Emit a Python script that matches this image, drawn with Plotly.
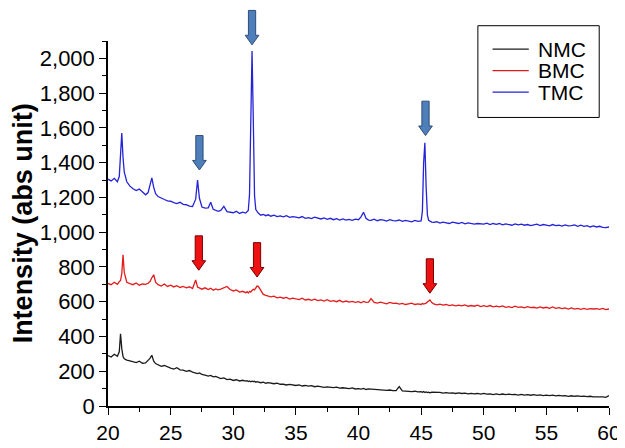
import plotly.graph_objects as go

# 2-theta (deg), one line per degree
two_theta = [
    20.0, 20.25, 20.5, 20.75, 20.9,
    21.0, 21.1, 21.2, 21.3, 21.5, 21.75,
    22.0, 22.25, 22.5, 22.75,
    23.0, 23.2, 23.35, 23.5, 23.65, 23.8,
    24.0, 24.25, 24.5, 24.75,
    25.0, 25.25, 25.5, 25.75,
    26.0, 26.25, 26.5, 26.75,
    27.0, 27.15, 27.3, 27.5, 27.75,
    28.0, 28.2, 28.4, 28.6, 28.8,
    29.0, 29.25, 29.5, 29.75,
    30.0, 30.25, 30.5, 30.75,
    31.0, 31.1, 31.2, 31.3, 31.4, 31.5, 31.6, 31.7, 31.8, 31.9,
    32.0, 32.2, 32.4, 32.6, 32.8,
    33.0, 33.25, 33.5, 33.75,
    34.0, 34.25, 34.5, 34.75,
    35.0, 35.25, 35.5, 35.75,
    36.0, 36.25, 36.5, 36.75,
    37.0, 37.25, 37.5, 37.75,
    38.0, 38.25, 38.5, 38.75,
    39.0, 39.25, 39.5, 39.75,
    40.0, 40.2, 40.4, 40.6, 40.8,
    41.0, 41.25, 41.5, 41.75,
    42.0, 42.25, 42.5, 42.75,
    43.0, 43.25, 43.5, 43.75,
    44.0, 44.25, 44.5, 44.75,
    45.0, 45.1, 45.2, 45.3, 45.4, 45.5, 45.6, 45.7, 45.85,
    46.0, 46.25, 46.5, 46.75,
    47.0, 47.25, 47.5, 47.75,
    48.0, 48.25, 48.5, 48.75,
    49.0, 49.25, 49.5, 49.75,
    50.0, 50.25, 50.5, 50.75,
    51.0, 51.25, 51.5, 51.75,
    52.0, 52.25, 52.5, 52.75,
    53.0, 53.25, 53.5, 53.75,
    54.0, 54.25, 54.5, 54.75,
    55.0, 55.25, 55.5, 55.75,
    56.0, 56.25, 56.5, 56.75,
    57.0, 57.25, 57.5, 57.75,
    58.0, 58.25, 58.5, 58.75,
    59.0, 59.25, 59.5, 59.75,
    60.0,
]

nmc = [
    290, 282, 298, 286, 312,
    415, 330, 285, 272, 264, 260,
    256, 250, 258, 246,
    248, 260, 274, 292, 258, 244,
    236, 228, 233, 224,
    218, 212, 220, 208,
    206, 199, 204, 195,
    192, 186, 190, 182, 178,
    172, 176, 168, 170, 163,
    158, 162, 152, 155,
    147, 151, 144, 148,
    143, 146, 141, 144, 139, 143, 140, 142, 137, 140,
    138, 134, 137, 131, 134,
    132, 128, 131, 125,
    125, 121, 124, 119,
    118, 121, 115, 118,
    114, 117, 111, 114,
    111, 107, 110, 106,
    106, 109, 103, 105,
    103, 100, 104, 98,
    100, 97, 101, 95, 98,
    97, 93, 96, 92,
    93, 90, 92, 88,
    89, 112, 87, 85,
    86, 83, 85, 81,
    82, 79, 83, 78, 81, 77, 80, 76, 79,
    79, 76, 78, 74,
    77, 74, 76, 72,
    75, 72, 74, 70,
    73, 70, 72, 68,
    72, 68, 70, 66,
    70, 66, 69, 65,
    68, 65, 67, 63,
    67, 63, 65, 62,
    65, 61, 64, 60,
    63, 60, 62, 58,
    61, 58, 60, 56,
    59, 56, 58, 55,
    57, 54, 56, 53,
    54, 51, 53, 50,
    60,
]

bmc = [
    705, 698, 712, 700, 715,
    722, 762, 870, 768, 712, 704,
    698, 708, 695, 702,
    700, 706, 716, 738, 755, 712,
    698, 690, 702, 688,
    695, 685, 692, 682,
    688, 680, 686, 676,
    725, 684, 678, 672, 680,
    670, 678, 666, 674, 668,
    672, 680, 688, 670,
    662, 668, 655, 660,
    652, 658, 650, 660, 655, 665, 672, 668, 680, 690,
    688, 662, 642, 636, 630,
    628, 632, 622, 626,
    620, 625, 615, 620,
    618, 612, 620, 610,
    614, 608, 615, 606,
    610, 604, 612, 602,
    606, 600, 608, 598,
    604, 598, 602, 596,
    600, 594, 602, 596, 598,
    618, 596, 592, 598,
    594, 588, 596, 590,
    592, 586, 590, 584,
    588, 592, 584, 588,
    584, 590, 586, 588, 592, 598, 606, 610, 595,
    588, 582, 586, 580,
    584, 578, 582, 576,
    580, 576, 582, 574,
    578, 574, 580, 572,
    577, 572, 578, 570,
    574, 570, 576, 568,
    572, 566, 574, 568,
    570, 565, 572, 566,
    568, 563, 570, 564,
    568, 562, 570, 562,
    566, 560, 564, 558,
    564, 558, 562, 556,
    562, 556, 560, 558,
    560, 556, 562, 555,
    558,
]

tmc = [
    1305, 1295, 1310, 1290, 1320,
    1440, 1570, 1430, 1345, 1290, 1265,
    1250, 1240, 1248, 1230,
    1215, 1228, 1265, 1312, 1258, 1222,
    1205, 1195, 1188, 1180,
    1178, 1170, 1165, 1172,
    1160, 1158, 1150, 1148,
    1190, 1300, 1195, 1145, 1138,
    1140, 1172, 1132, 1125, 1120,
    1125, 1148, 1118, 1115,
    1112, 1120, 1108, 1115,
    1110, 1118, 1125, 1220, 1700, 2043, 1650, 1210, 1130, 1120,
    1110, 1098, 1102, 1095, 1100,
    1092, 1098, 1090, 1094,
    1088, 1095, 1085, 1090,
    1086, 1082, 1090, 1080,
    1084, 1078, 1086, 1080,
    1076, 1082, 1074, 1080,
    1072, 1078, 1070, 1076,
    1070, 1074, 1068, 1075,
    1072, 1088, 1115, 1080, 1070,
    1068, 1075, 1066, 1072,
    1070, 1064, 1072, 1066,
    1065, 1070, 1062, 1068,
    1064, 1060, 1068, 1062,
    1065, 1120, 1400, 1515, 1260, 1100, 1068, 1062, 1058,
    1056, 1060, 1052, 1058,
    1054, 1050, 1058, 1052,
    1050, 1056, 1048, 1054,
    1052, 1046, 1050, 1048,
    1046, 1052, 1044, 1050,
    1045, 1050, 1042, 1048,
    1044, 1040, 1048, 1042,
    1046, 1040, 1044, 1038,
    1042, 1046, 1038, 1044,
    1040, 1036, 1044, 1038,
    1040, 1035, 1042, 1036,
    1038, 1042, 1034, 1040,
    1034, 1038, 1030, 1036,
    1030, 1034, 1028, 1026,
    1030,
]

series_names = ["NMC", "BMC", "TMC"]
series_colors = ["#1a1a1a", "#e31b1b", "#2323d8"]
y_title = "Intensity (abs unit)"

# peak marker arrows (x position, tip intensity)
arrow_x_tmc = [27.3, 31.5, 45.35]
arrow_tip_tmc = [1358, 2078, 1556]
arrow_x_bmc = [27.25, 31.9, 45.7]
arrow_tip_bmc = [781, 742, 649]

x_range = [20, 60]
y_range = [0, 2100]

assert len(two_theta) == len(nmc) == len(bmc) == len(tmc)

FONT = "Arial, Liberation Sans, sans-serif"
W, H = 625, 448
ML, MR, MT, MB = 100, 13, 33, 33
PW, PH = W - ML - MR, H - MT - MB


def px2paper_x(px):
    return (px - ML) / PW


def px2paper_y(py):
    return (H - MB - py) / PH


fig = go.Figure()
for name, ys, col in zip(series_names, [nmc, bmc, tmc], series_colors):
    fig.add_trace(go.Scatter(x=two_theta, y=ys, mode="lines", name=name,
                             line=dict(color=col, width=1.3), showlegend=False))


def arrow_path(xv, tip):
    px = (xv - x_range[0]) / (x_range[1] - x_range[0])
    py = (tip - y_range[0]) / (y_range[1] - y_range[0])
    sw = 3.7 / PW
    hw = 7.0 / PW
    hh = 10.0 / PH
    tl = 36.0 / PH
    pts = [(px, py), (px - hw, py + hh), (px - sw, py + hh), (px - sw, py + tl),
           (px + sw, py + tl), (px + sw, py + hh), (px + hw, py + hh)]
    return "M " + " L ".join(f"{a:.5f},{b:.5f}" for a, b in pts) + " Z"


for xs, tips, fill, edge in [(arrow_x_tmc, arrow_tip_tmc, "#4f7fbb", "#2e4d78"),
                             (arrow_x_bmc, arrow_tip_bmc, "#ee1111", "#7a0000")]:
    for xv, tv in zip(xs, tips):
        fig.add_shape(type="path", path=arrow_path(xv, tv), xref="paper", yref="paper",
                      fillcolor=fill, line=dict(color=edge, width=1), layer="above")

# legend box (drawn manually to match the boxed legend layout)
box_l, box_r, box_t, box_b = 478, 602, 17, 113
fig.add_shape(type="rect", xref="paper", yref="paper",
              x0=px2paper_x(box_l), x1=px2paper_x(box_r),
              y0=px2paper_y(box_b), y1=px2paper_y(box_t),
              line=dict(color="black", width=1), fillcolor="white", layer="above")
for i, (name, col) in enumerate(zip(series_names, series_colors)):
    cy = box_t + 24.5 + 22.5 * i
    fig.add_shape(type="line", xref="paper", yref="paper",
                  x0=px2paper_x(493), x1=px2paper_x(530),
                  y0=px2paper_y(cy), y1=px2paper_y(cy),
                  line=dict(color=col, width=1.3), layer="above")
    fig.add_annotation(text=name, xref="paper", yref="paper",
                       x=px2paper_x(537), y=px2paper_y(cy), xanchor="left", yanchor="middle",
                       showarrow=False, font=dict(size=21, family=FONT, color="black"))

fig.add_annotation(text=f"<b>{y_title}</b>", xref="paper", yref="paper",
                   x=px2paper_x(13), y=0.5, xanchor="center", yanchor="middle",
                   textangle=-90, showarrow=False,
                   font=dict(size=27, family=FONT, color="black"))

fig.update_layout(
    width=W, height=H,
    margin=dict(l=ML, r=MR, t=MT, b=MB),
    paper_bgcolor="white", plot_bgcolor="white",
    font=dict(family=FONT, color="black", size=21),
    showlegend=False,
)
fig.update_xaxes(range=x_range, showline=True, linecolor="black", linewidth=1.5,
                 ticks="outside", ticklen=7, tickwidth=1.3, tickcolor="black",
                 dtick=5, tick0=20, showgrid=False, zeroline=False,
                 tickfont=dict(size=21),
                 minor=dict(dtick=2.5, ticks="outside", ticklen=4, tickcolor="black", tickwidth=1.3))
fig.update_yaxes(range=y_range, showline=True, linecolor="black", linewidth=1.5,
                 ticks="outside", ticklen=7, tickwidth=1.3, tickcolor="black",
                 dtick=200, tick0=0, tickformat=",", showgrid=False, zeroline=False,
                 tickfont=dict(size=22),
                 minor=dict(dtick=100, ticks="outside", ticklen=4, tickcolor="black", tickwidth=1.3))

fig.write_html("out.html")
